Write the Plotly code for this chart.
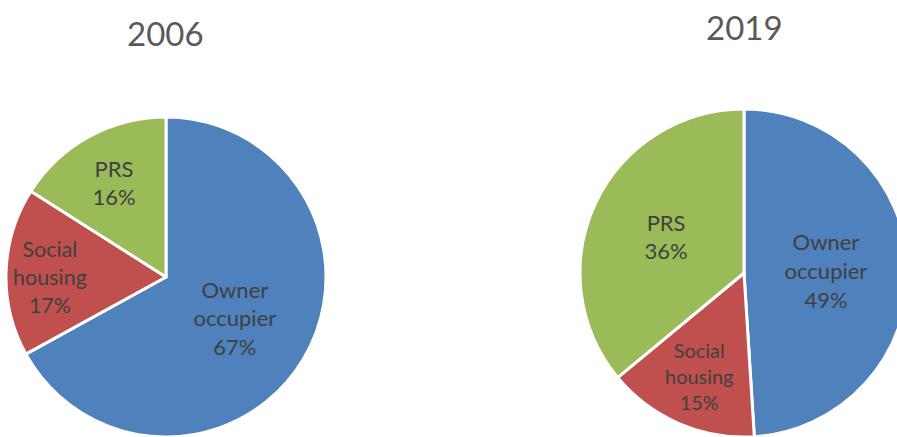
import plotly.graph_objects as go

categories = ["Owner<br>occupier", "Social<br>housing", "PRS"]
values_2006 = [67, 17, 16]
values_2019 = [49, 15, 36]
titles = ["2006", "2019"]
colors = ["#4F81BD", "#C0504D", "#9BBB59"]

W, H = 920, 437

def dom(cx, cy, r):
    return dict(x=[(cx - r) / W, (cx + r) / W], y=[1 - (cy + r) / H, 1 - (cy - r) / H])

FONT = "Lato"
common = dict(
    labels=categories,
    sort=False,
    direction="clockwise",
    rotation=0,
    marker=dict(colors=colors, line=dict(color="white", width=3)),
    texttemplate="%{label}<br>%{percent:.0%}",
    textposition="inside",
    insidetextorientation="horizontal",
    textfont=dict(family=FONT, size=22, color="#404040"),
    hoverinfo="label+percent",
    showlegend=False,
)

fig = go.Figure()
fig.add_trace(go.Pie(values=values_2006, domain=dom(166, 277, 160), **common))
fig.add_trace(go.Pie(values=values_2019, domain=dom(744, 273, 164), **common))

fig.update_layout(
    width=W,
    height=H,
    margin=dict(l=0, r=0, t=0, b=0),
    paper_bgcolor="white",
    plot_bgcolor="white",
    font=dict(family=FONT, color="#404040"),
    annotations=[
        dict(text=titles[0], x=165 / W, y=1 - 33 / H, xref="paper", yref="paper",
             showarrow=False, font=dict(family=FONT, size=33, color="#595959"),
             xanchor="center", yanchor="middle"),
        dict(text=titles[1], x=744 / W, y=1 - 27 / H, xref="paper", yref="paper",
             showarrow=False, font=dict(family=FONT, size=33, color="#595959"),
             xanchor="center", yanchor="middle"),
    ],
)

fig.write_html(
    "out.html",
    config={"displayModeBar": False},
    post_script="document.documentElement.style.overflow='hidden';document.body.style.overflow='hidden';document.body.style.margin='0';",
)
